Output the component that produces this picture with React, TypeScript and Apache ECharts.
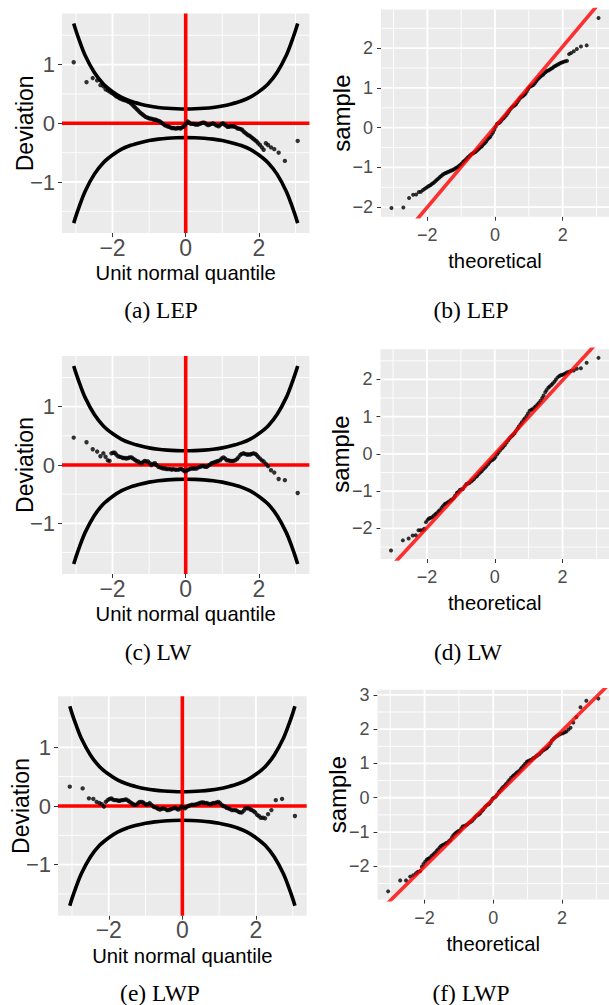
import React, { useEffect, useRef } from "react";
import * as echarts from "echarts";

// ---------- data ----------
// worm-plot points: unit normal quantile (z) and deviation; QQ sample = z + deviation
const zLEP = [-3.06,-2.71,-2.54,-2.42,-2.33,-2.25,-2.19,-2.13,-2.08,-2.03,-1.98,-1.94,-1.90,-1.86,-1.82,-1.78,-1.74,-1.70,-1.66,-1.62,-1.58,-1.54,-1.50,-1.46,-1.42,-1.38,-1.34,-1.30,-1.26,-1.22,-1.18,-1.14,-1.10,-1.06,-1.02,-0.98,-0.94,-0.90,-0.86,-0.82,-0.78,-0.74,-0.70,-0.66,-0.62,-0.58,-0.54,-0.50,-0.46,-0.42,-0.38,-0.34,-0.30,-0.26,-0.22,-0.18,-0.14,-0.10,-0.06,-0.02,0.02,0.06,0.10,0.14,0.18,0.22,0.26,0.30,0.34,0.38,0.42,0.46,0.50,0.54,0.58,0.62,0.66,0.70,0.74,0.78,0.82,0.86,0.90,0.94,0.98,1.02,1.06,1.10,1.14,1.18,1.22,1.26,1.30,1.34,1.38,1.42,1.46,1.50,1.54,1.58,1.62,1.66,1.70,1.74,1.78,1.82,1.86,1.90,1.94,1.98,2.03,2.08,2.13,2.19,2.25,2.33,2.42,2.54,2.71,3.06];
const devLEP = [1.04,0.70,0.77,0.73,0.65,0.63,0.58,0.56,0.54,0.52,0.50,0.48,0.46,0.45,0.43,0.42,0.41,0.40,0.39,0.385,0.37,0.36,0.34,0.32,0.29,0.27,0.24,0.22,0.19,0.17,0.15,0.13,0.11,0.10,0.09,0.08,0.08,0.07,0.06,0.06,0.05,0.04,0.03,0.01,-0.01,-0.03,-0.04,-0.05,-0.06,-0.07,-0.08,-0.08,-0.085,-0.09,-0.08,-0.08,-0.09,-0.07,-0.06,-0.03,0.0,0.03,0.01,-0.01,-0.01,-0.01,-0.02,-0.02,-0.02,-0.01,0.0,0.01,0.01,0.0,-0.02,-0.03,-0.02,-0.01,0.0,-0.01,-0.03,-0.04,-0.05,-0.03,-0.01,0.0,-0.02,-0.04,-0.06,-0.06,-0.05,-0.05,-0.05,-0.06,-0.07,-0.09,-0.09,-0.10,-0.11,-0.14,-0.16,-0.18,-0.20,-0.21,-0.23,-0.25,-0.27,-0.29,-0.31,-0.34,-0.37,-0.41,-0.45,-0.34,-0.37,-0.41,-0.44,-0.50,-0.64,-0.30];

const zLW = [-3.06,-2.71,-2.54,-2.42,-2.33,-2.25,-2.19,-2.13,-2.08,-2.03,-1.98,-1.94,-1.90,-1.85,-1.80,-1.75,-1.71,-1.66,-1.62,-1.57,-1.53,-1.48,-1.44,-1.39,-1.35,-1.30,-1.26,-1.21,-1.17,-1.12,-1.08,-1.03,-0.98,-0.94,-0.89,-0.84,-0.80,-0.75,-0.70,-0.66,-0.61,-0.56,-0.52,-0.47,-0.42,-0.38,-0.34,-0.29,-0.25,-0.20,-0.16,-0.11,-0.07,-0.02,0.02,0.07,0.11,0.16,0.21,0.25,0.30,0.35,0.40,0.44,0.49,0.53,0.58,0.62,0.67,0.71,0.76,0.80,0.85,0.89,0.94,0.98,1.03,1.08,1.12,1.17,1.21,1.26,1.30,1.35,1.40,1.44,1.49,1.53,1.58,1.62,1.67,1.71,1.76,1.80,1.85,1.90,1.94,1.98,2.03,2.08,2.13,2.19,2.25,2.33,2.42,2.54,2.71,3.06];
const devLW = [0.47,0.39,0.27,0.23,0.15,0.20,0.14,0.08,0.07,0.20,0.21,0.21,0.18,0.15,0.14,0.13,0.12,0.12,0.11,0.12,0.13,0.13,0.11,0.09,0.07,0.06,0.04,0.03,0.05,0.07,0.06,0.06,0.03,0.0,0.02,0.03,0.0,-0.03,-0.04,-0.05,-0.06,-0.06,-0.07,-0.07,-0.07,-0.08,-0.07,-0.08,-0.08,-0.08,-0.07,-0.07,-0.09,-0.11,-0.10,-0.08,-0.07,-0.06,-0.06,-0.06,-0.06,-0.04,-0.03,-0.02,-0.02,-0.03,-0.03,-0.01,0.01,0.03,0.04,0.05,0.06,0.07,0.08,0.11,0.13,0.11,0.08,0.08,0.07,0.07,0.07,0.08,0.10,0.13,0.17,0.19,0.20,0.19,0.18,0.18,0.18,0.19,0.20,0.19,0.17,0.14,0.11,0.08,0.06,0.02,-0.02,-0.09,-0.13,-0.24,-0.26,-0.48];

const zLWP = [-3.06,-2.71,-2.54,-2.42,-2.33,-2.25,-2.19,-2.13,-2.08,-2.03,-1.98,-1.93,-1.89,-1.84,-1.79,-1.74,-1.70,-1.65,-1.61,-1.56,-1.52,-1.47,-1.43,-1.38,-1.34,-1.29,-1.25,-1.20,-1.16,-1.11,-1.07,-1.02,-0.98,-0.93,-0.89,-0.84,-0.79,-0.75,-0.70,-0.66,-0.61,-0.56,-0.52,-0.47,-0.42,-0.38,-0.33,-0.29,-0.24,-0.20,-0.15,-0.11,-0.06,-0.02,0.02,0.07,0.11,0.16,0.20,0.25,0.29,0.34,0.38,0.43,0.47,0.52,0.57,0.61,0.66,0.70,0.75,0.80,0.84,0.89,0.93,0.98,1.02,1.07,1.11,1.16,1.20,1.25,1.29,1.34,1.39,1.44,1.48,1.53,1.57,1.62,1.67,1.71,1.76,1.80,1.85,1.89,1.94,1.98,2.03,2.08,2.13,2.19,2.25,2.33,2.42,2.54,2.71,3.06];
const devLWP = [0.33,0.30,0.13,0.12,0.07,0.05,0.03,-0.01,0.07,0.10,0.12,0.13,0.11,0.10,0.10,0.09,0.09,0.10,0.10,0.11,0.11,0.09,0.07,0.05,0.03,0.02,0.02,0.05,0.07,0.07,0.06,0.04,0.02,0.03,0.05,0.02,-0.01,-0.02,-0.03,-0.05,-0.06,-0.05,-0.04,-0.05,-0.07,-0.07,-0.06,-0.05,-0.04,-0.03,-0.05,-0.06,-0.04,-0.01,-0.02,-0.04,-0.02,0.0,0.01,0.02,0.02,0.02,0.03,0.04,0.05,0.06,0.06,0.05,0.05,0.04,0.03,0.04,0.05,0.05,0.06,0.07,0.05,0.02,0.0,-0.01,-0.03,-0.04,-0.05,-0.07,-0.07,-0.07,-0.08,-0.10,-0.11,-0.11,-0.08,-0.04,-0.04,-0.04,-0.06,-0.07,-0.09,-0.11,-0.15,-0.17,-0.20,-0.20,-0.21,-0.14,-0.07,0.10,0.12,-0.17];

// worm-plot confidence band (upper half-width; lower band mirrors it)
const bandZ = [-3.06,-3.0,-2.9,-2.75,-2.5,-2.25,-2.0,-1.75,-1.5,-1.25,-1.0,-0.75,-0.5,-0.25,0,0.25,0.5,0.75,1.0,1.25,1.5,1.75,2.0,2.25,2.5,2.75,2.9,3.0,3.06];
const bandUpper = [1.70,1.58,1.40,1.16,0.87,0.67,0.54,0.44,0.375,0.33,0.294,0.27,0.255,0.247,0.244,0.247,0.255,0.27,0.294,0.33,0.375,0.44,0.54,0.67,0.87,1.16,1.40,1.58,1.70];

// QQ reference lines (intercept, slope)
const qqLineLEP = [0.02, 1.01];
const qqLineLW = [0.0, 0.99];
const qqLineLWP = [-0.03, 0.99];

// axis ticks
const wormXTicks = [-2, 0, 2];
const wormXMinor = [-3, -1, 1, 3];
const wormYTicks = [-1, 0, 1];
const wormYMinor = [-1.5, -0.5, 0.5, 1.5];
const qqXTicks = [-2, 0, 2];
const qqXMinor = [-3, -1, 1, 3];
const qqYTicksLEP = [-2, -1, 0, 1, 2];
const qqYMinorLEP = [-1.5, -0.5, 0.5, 1.5, 2.5];
const qqYTicksLW = [-2, -1, 0, 1, 2];
const qqYMinorLW = [-2.5, -1.5, -0.5, 0.5, 1.5, 2.5];
const qqYTicksLWP = [-2, -1, 0, 1, 2, 3];
const qqYMinorLWP = [-2.5, -1.5, -0.5, 0.5, 1.5, 2.5];

const captions = ["(a) LEP", "(b) LEP", "(c) LW", "(d) LW", "(e) LWP", "(f) LWP"];

// ---------- layout ----------
const W = 609;
const H = 1005;
const SANS = "'Liberation Sans', Arial, Helvetica, sans-serif";

const fmt = (v: number) => (v < 0 ? "\u2212" + Math.abs(v) : String(v));

export default function App() {
  const ref = useRef<HTMLDivElement>(null);
  useEffect(() => {
    document.body.style.margin = "0";
    if (!ref.current) return;
    const chart = echarts.init(ref.current, null, { renderer: "svg" });

    type Panel = {
      kind: "worm" | "qq";
      z: number[];
      dev: number[];
      grid: { left: number; top: number; width: number; height: number };
      xr: [number, number];
      yr: [number, number];
      xt: number[];
      xm: number[];
      yt: number[];
      ym: number[];
      line?: number[];
      cap: [number, number];
    };

    const panels: Panel[] = [
      { kind: "worm", z: zLEP, dev: devLEP, grid: { left: 62, top: 13.5, width: 247.4, height: 219.6 }, xr: [-3.38, 3.38], yr: [-1.87, 1.87], xt: wormXTicks, xm: wormXMinor, yt: wormYTicks, ym: wormYMinor, cap: [161, 310] },
      { kind: "qq", z: zLEP, dev: devLEP, grid: { left: 381, top: 9.6, width: 232, height: 207.1 }, xr: [-3.37, 3.37], yr: [-2.24, 2.97], xt: qqXTicks, xm: qqXMinor, yt: qqYTicksLEP, ym: qqYMinorLEP, line: qqLineLEP, cap: [471, 310] },
      { kind: "worm", z: zLW, dev: devLW, grid: { left: 62, top: 356, width: 247.4, height: 218 }, xr: [-3.38, 3.38], yr: [-1.87, 1.87], xt: wormXTicks, xm: wormXMinor, yt: wormYTicks, ym: wormYMinor, cap: [158, 652] },
      { kind: "qq", z: zLW, dev: devLW, grid: { left: 380.5, top: 349.3, width: 233.5, height: 209.7 }, xr: [-3.37, 3.37], yr: [-2.82, 2.81], xt: qqXTicks, xm: qqXMinor, yt: qqYTicksLW, ym: qqYMinorLW, line: qqLineLW, cap: [468, 652] },
      { kind: "worm", z: zLWP, dev: devLWP, grid: { left: 58, top: 696.3, width: 248.7, height: 219.4 }, xr: [-3.38, 3.38], yr: [-1.87, 1.87], xt: wormXTicks, xm: wormXMinor, yt: wormYTicks, ym: wormYMinor, cap: [160, 993] },
      { kind: "qq", z: zLWP, dev: devLWP, grid: { left: 377.5, top: 689.7, width: 232.5, height: 209.9 }, xr: [-3.37, 3.37], yr: [-2.97, 3.15], xt: qqXTicks, xm: qqXMinor, yt: qqYTicksLWP, ym: qqYMinorLWP, line: qqLineLWP, cap: [471, 993] },
    ];

    const grids: any[] = [];
    const xAxes: any[] = [];
    const yAxes: any[] = [];
    const series: any[] = [];
    const graphics: any[] = [];

    const gridLine = (i: number, data: number[][], width: number) => ({
      type: "line",
      xAxisIndex: i,
      yAxisIndex: i,
      data,
      showSymbol: false,
      symbol: "none",
      silent: true,
      z: 1,
      lineStyle: { color: "#FFFFFF", width },
    });

    panels.forEach((p, i) => {
      const worm = p.kind === "worm";
      grids.push({
        left: p.grid.left,
        top: p.grid.top,
        width: p.grid.width,
        height: p.grid.height,
        show: true,
        backgroundColor: "#EBEBEB",
        borderWidth: 0,
        containLabel: false,
      });
      xAxes.push({
        gridIndex: i,
        type: "value",
        min: p.xr[0],
        max: p.xr[1],
        axisLine: { show: false, onZero: false },
        axisTick: { show: true, length: 4, customValues: p.xt, lineStyle: { color: "#333333", width: 1 } },
        axisLabel: {
          customValues: p.xt,
          formatter: fmt,
          color: "#4D4D4D",
          fontSize: worm ? 23 : 18,
          fontFamily: SANS,
          margin: worm ? 3 : 9,
        },
        splitLine: { show: false },
        name: worm ? "Unit normal quantile" : "theoretical",
        nameLocation: "middle",
        nameMoveOverlap: false,
        nameGap: worm ? 30 : 34,
        nameTextStyle: { color: "#000", fontSize: 20.3, fontFamily: SANS },
      });
      yAxes.push({
        gridIndex: i,
        type: "value",
        min: p.yr[0],
        max: p.yr[1],
        axisLine: { show: false, onZero: false },
        axisTick: { show: true, length: 4, customValues: p.yt, lineStyle: { color: "#333333", width: 1 } },
        axisLabel: {
          customValues: p.yt,
          formatter: fmt,
          color: "#4D4D4D",
          fontSize: worm ? 22 : 18,
          fontFamily: SANS,
          margin: worm ? 7 : 8,
        },
        splitLine: { show: false },
        name: worm ? "Deviation" : "sample",
        nameLocation: "middle",
        nameRotate: 90,
        nameMoveOverlap: false,
        nameGap: worm ? 26 : 28,
        nameTextStyle: { color: "#000", fontSize: worm ? 23 : 24, fontFamily: SANS },
      });

      const xr = p.xr;
      const yr = p.yr;
      // grid lines (major + minor), one short line series each
      p.xt.forEach((v) => series.push(gridLine(i, [[v, yr[0]], [v, yr[1]]], 1.8)));
      p.yt.forEach((v) => series.push(gridLine(i, [[xr[0], v], [xr[1], v]], 1.8)));
      p.xm.forEach((v) => series.push(gridLine(i, [[v, yr[0]], [v, yr[1]]], 0.9)));
      p.ym.forEach((v) => series.push(gridLine(i, [[xr[0], v], [xr[1], v]], 0.9)));

      if (worm) {
        series.push({
          type: "line",
          xAxisIndex: i,
          yAxisIndex: i,
          data: bandZ.map((z, k) => [z, bandUpper[k]]),
          smooth: 0.3,
          showSymbol: false,
          symbol: "none",
          silent: true,
          z: 2,
          lineStyle: { color: "#000", width: 3.6 },
        });
        series.push({
          type: "line",
          xAxisIndex: i,
          yAxisIndex: i,
          data: bandZ.map((z, k) => [z, -bandUpper[k]]),
          smooth: 0.3,
          showSymbol: false,
          symbol: "none",
          silent: true,
          z: 2,
          lineStyle: { color: "#000", width: 3.6 },
        });
        series.push({
          type: "line",
          xAxisIndex: i,
          yAxisIndex: i,
          data: [[xr[0], 0], [xr[1], 0]],
          showSymbol: false,
          symbol: "none",
          silent: true,
          z: 3,
          lineStyle: { color: "#FF0000", width: 3.6 },
        });
        series.push({
          type: "line",
          xAxisIndex: i,
          yAxisIndex: i,
          data: [[0, yr[0]], [0, yr[1]]],
          showSymbol: false,
          symbol: "none",
          silent: true,
          z: 3,
          lineStyle: { color: "#FF0000", width: 3.6 },
        });
        series.push({
          type: "scatter",
          xAxisIndex: i,
          yAxisIndex: i,
          data: p.z.map((z, k) => [z, p.dev[k]]),
          symbolSize: 4.4,
          z: 4,
          itemStyle: { color: "#000" },
        });
      } else {
        series.push({
          type: "scatter",
          xAxisIndex: i,
          yAxisIndex: i,
          data: p.z.map((z, k) => [z, +(z + p.dev[k]).toFixed(3)]),
          symbolSize: 4,
          z: 3,
          itemStyle: { color: "#000" },
        });
        const [a, b] = p.line as number[];
        series.push({
          type: "line",
          xAxisIndex: i,
          yAxisIndex: i,
          data: [[xr[0], a + b * xr[0]], [xr[1], a + b * xr[1]]],
          showSymbol: false,
          symbol: "none",
          silent: true,
          clip: true,
          z: 4,
          lineStyle: { color: "rgba(255,0,0,0.8)", width: 3.6 },
        });
      }

      graphics.push({
        type: "text",
        x: p.cap[0],
        y: p.cap[1],
        style: {
          text: captions[i],
          textAlign: "center",
          textVerticalAlign: "middle",
          fontSize: 23.5,
          fontFamily: "'Liberation Serif', 'Times New Roman', serif",
          fill: "#000",
        },
      });
    });

    chart.setOption({
      animation: false,
      backgroundColor: "#FFFFFF",
      grid: grids,
      xAxis: xAxes,
      yAxis: yAxes,
      series,
      graphic: graphics,
    });
    return () => chart.dispose();
  }, []);

  return <div ref={ref} style={{ width: W, height: H }} />;
}
